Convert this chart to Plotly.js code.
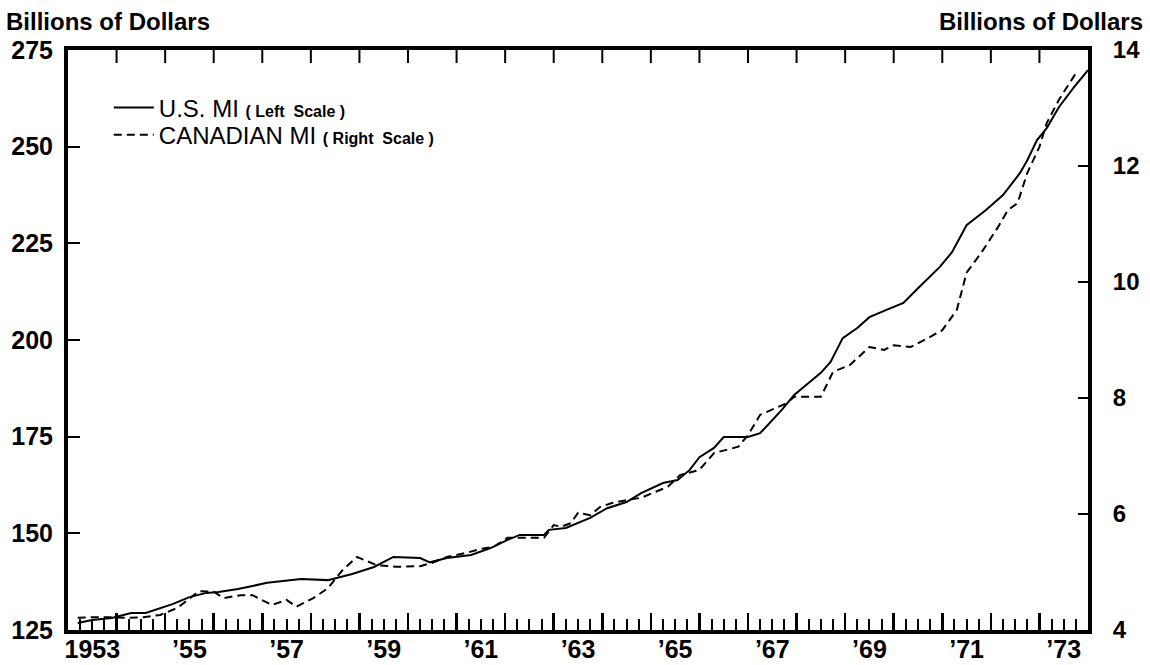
<!DOCTYPE html>
<html>
<head>
<meta charset="utf-8">
<script src="https://cdn.plot.ly/plotly-3.0.1.min.js"></script>
<style>
  html, body { margin: 0; padding: 0; background: #fff; }
  #chart { width: 1150px; height: 665px; }
</style>
</head>
<body>
<div id="chart"></div>
<script>
// ---- Data ----
const usYears = [1953.2,1953.5,1953.9,1954.3,1954.6,1954.9,1955.15,1955.5,1955.85,1956.1,1956.5,1956.8,1957.1,1957.8,1958.35,1958.85,1959.3,1959.7,1960.25,1960.45,1960.8,1961.3,1961.7,1962.05,1962.3,1962.8,1962.9,1963.25,1963.75,1964.1,1964.5,1964.8,1965.25,1965.55,1965.8,1966.0,1966.3,1966.5,1967.0,1967.25,1967.7,1967.95,1968.5,1968.7,1968.95,1969.25,1969.5,1969.85,1970.2,1970.5,1970.95,1971.2,1971.5,1971.9,1972.25,1972.6,1972.75,1972.95,1973.15,1973.4,1973.7,1974.0];
const usM1 = [126.8,127.6,128.1,129.4,129.4,130.7,131.7,133.5,134.6,134.8,135.6,136.4,137.2,138.2,137.9,139.5,141.3,143.9,143.6,142.5,143.6,144.4,146.2,148.3,149.6,149.6,150.9,151.4,154.0,156.5,158.1,160.4,163.0,163.8,166.4,169.7,172.1,174.9,174.9,175.9,182.0,185.8,191.5,194.3,200.5,203.1,205.9,207.8,209.6,213.4,218.9,222.7,229.7,233.6,237.5,243.2,246.5,251.7,254.8,260.2,265.2,269.8];

const caYears = [1953.2,1953.5,1953.9,1954.2,1954.55,1954.9,1955.25,1955.5,1955.7,1956.0,1956.2,1956.55,1956.8,1957.2,1957.5,1957.7,1958.05,1958.35,1958.65,1958.95,1959.35,1959.75,1960.25,1960.5,1960.8,1961.2,1961.5,1961.75,1962.05,1962.8,1963.0,1963.15,1963.35,1963.5,1963.75,1963.95,1964.2,1964.5,1964.8,1965.35,1965.6,1966.0,1966.3,1966.8,1967.0,1967.25,1967.8,1967.95,1968.5,1968.75,1969.1,1969.5,1969.8,1970.0,1970.35,1970.7,1971.0,1971.3,1971.5,1971.8,1972.15,1972.35,1972.55,1972.75,1973.0,1973.15,1973.4,1973.75];
const caM1 = [4.21,4.22,4.22,4.21,4.22,4.26,4.38,4.55,4.67,4.66,4.55,4.60,4.60,4.43,4.52,4.40,4.55,4.72,5.03,5.26,5.12,5.09,5.10,5.16,5.26,5.33,5.40,5.43,5.59,5.59,5.81,5.78,5.84,6.02,5.98,6.12,6.19,6.24,6.28,6.47,6.67,6.76,7.05,7.16,7.36,7.71,7.91,8.02,8.02,8.45,8.57,8.88,8.83,8.91,8.88,9.03,9.17,9.52,10.16,10.50,10.95,11.24,11.36,11.88,12.33,12.74,13.14,13.60];

const leftTicks = [125,150,175,200,225,250,275];
const rightTicks = [4,6,8,10,12,14];
const xLabelYears = [1953,1955,1957,1959,1961,1963,1965,1967,1969,1971,1973];
const xLabelText = ["1953","\u201955","\u201957","\u201959","\u201961","\u201963","\u201965","\u201967","\u201969","\u201971","\u201973"];
const axisTitle = "Billions of Dollars";

// ---- Tick helpers ----
const quarterVals = [], quarterText = [];
for (let y = 1953; y < 1974; y++) {
  for (let q = 1; q < 4; q++) {
    const v = y + q / 4;
    quarterVals.push(v);
    const idx = xLabelYears.indexOf(y);
    quarterText.push(q === 2 && idx >= 0 ? xLabelText[idx] : "");
  }
}
const yearVals = [];
for (let y = 1954; y < 1974; y++) yearVals.push(y);

const sans = "Liberation Sans, Arial, Helvetica, sans-serif";

// top-edge year ticks (pointing down into the plot)
const topTickShapes = yearVals.map(v => ({
  type: "line", xref: "x", yref: "y domain",
  x0: v, x1: v, y0: 1, y1: 1 - 13 / 580,
  line: { color: "#000", width: 2 }
}));

const traces = [
  {
    x: usYears, y: usM1, type: "scatter", mode: "lines",
    name: 'U.S. MI <span style="font-size:16px;font-weight:bold">( Left&#160;&#160;Scale )</span>',
    line: { color: "#000", width: 2 },
    xaxis: "x", yaxis: "y", hoverinfo: "skip", legend: "legend"
  },
  {
    x: caYears, y: caM1, type: "scatter", mode: "lines",
    name: 'CANADIAN MI <span style="font-size:16px;font-weight:bold">( Right&#160;&#160;Scale )</span>',
    line: { color: "#000", width: 2, dash: "8px,5px" },
    xaxis: "x", yaxis: "y2", hoverinfo: "skip", legend: "legend2"
  }
];

const legendBase = {
  xanchor: "left", yanchor: "middle",
  bgcolor: "rgba(0,0,0,0)", borderwidth: 0,
  font: { family: sans, size: 24, color: "#000" },
  itemwidth: 40
};

const layout = {
  width: 1150, height: 665,
  margin: { l: 68, r: 62, t: 50, b: 35, pad: 0 },
  paper_bgcolor: "#fff", plot_bgcolor: "#fff",
  showlegend: true,
  legend: Object.assign({}, legendBase, { x: 0.04, y: 0.9 }),
  legend2: Object.assign({}, legendBase, { x: 0.04, y: 0.853 }),
  xaxis: {
    range: [1953, 1974], showgrid: false, zeroline: false,
    showline: true, linewidth: 4, linecolor: "#000", mirror: true,
    tickmode: "array", tickvals: quarterVals, ticktext: quarterText,
    ticks: "inside", ticklen: 11, tickwidth: 2, tickcolor: "#000",
    tickfont: { family: sans, size: 25, color: "#000", weight: "bold" },
    ticklabelstandoff: -6,
    minor: { tickmode: "array", tickvals: yearVals, ticks: "inside", ticklen: 17, tickwidth: 2.5, tickcolor: "#000", showgrid: false },
    fixedrange: true
  },
  yaxis: {
    range: [125, 275], showgrid: false, zeroline: false,
    showline: true, linewidth: 4, linecolor: "#000",
    tickmode: "array", tickvals: leftTicks, ticktext: leftTicks.map(String),
    ticks: "inside", ticklen: 12, tickwidth: 2, tickcolor: "#000",
    tickfont: { family: sans, size: 25, color: "#000", weight: "bold" },
    ticklabelstandoff: 6, fixedrange: true
  },
  yaxis2: {
    range: [4, 14], overlaying: "y", side: "right", anchor: "x",
    showgrid: false, zeroline: false,
    showline: true, linewidth: 4, linecolor: "#000",
    tickmode: "array", tickvals: rightTicks, ticktext: rightTicks.map(String),
    ticks: "inside", ticklen: 10, tickwidth: 2, tickcolor: "#000",
    tickfont: { family: sans, size: 24, color: "#000", weight: "bold" },
    ticklabelstandoff: 16, fixedrange: true
  },
  shapes: topTickShapes,
  annotations: [
    { text: axisTitle, xref: "paper", yref: "paper", x: -0.063, y: 1.0, xanchor: "left", yanchor: "bottom",
      yshift: 13, showarrow: false, font: { family: sans, size: 24, color: "#000", weight: "bold" } },
    { text: axisTitle, xref: "paper", yref: "paper", x: 1.056, y: 1.0, xanchor: "right", yanchor: "bottom",
      yshift: 13, showarrow: false, font: { family: sans, size: 24, color: "#000", weight: "bold" } }
  ]
};

Plotly.newPlot("chart", traces, layout, { displayModeBar: false, staticPlot: true });
</script>
</body>
</html>
